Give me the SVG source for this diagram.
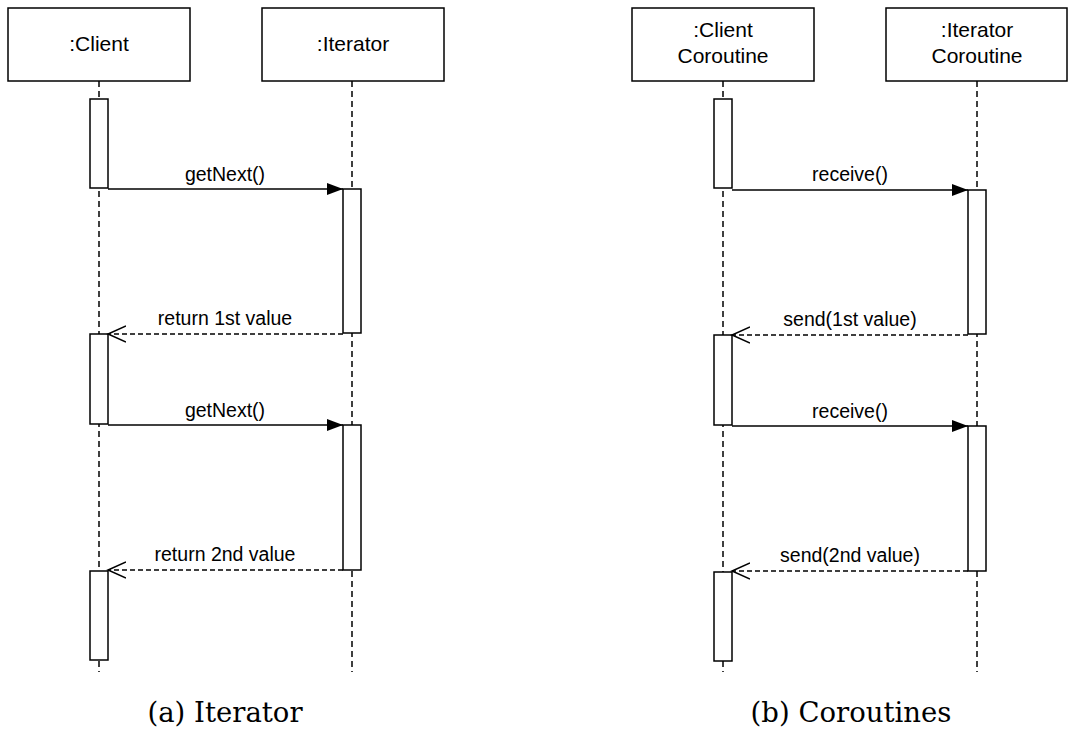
<svg xmlns="http://www.w3.org/2000/svg" width="1068" height="733" viewBox="0 0 1068 733">
<defs>
<marker id="filled" markerWidth="16" markerHeight="12" refX="16" refY="6" orient="auto" markerUnits="userSpaceOnUse"><path d="M0,0 L16,6 L0,12 Z" fill="#000"/></marker>
<marker id="open" markerWidth="20" markerHeight="18" refX="18" refY="9" orient="auto" markerUnits="userSpaceOnUse"><path d="M0,1 L18,9 L0,17" fill="none" stroke="#000" stroke-width="1.5"/></marker>
</defs>
<style>
.box{fill:#fff;stroke:#000;stroke-width:1.5}
.act{fill:#fff;stroke:#000;stroke-width:1.5}
.life{stroke:#000;stroke-width:1.5;stroke-dasharray:6 4;fill:none}
.call{stroke:#000;stroke-width:1.5;fill:none;marker-end:url(#filled)}
.ret{stroke:#000;stroke-width:1.4;stroke-dasharray:5 3;fill:none;marker-end:url(#open)}
.t{font-family:"Liberation Sans",Arial,sans-serif;font-size:21px;text-anchor:middle;fill:#000}
.l{font-family:"Liberation Sans",Arial,sans-serif;font-size:19.5px;text-anchor:middle;fill:#000}
.cap{font-family:"DejaVu Serif","Liberation Serif",serif;font-size:27.5px;text-anchor:middle;fill:#000}
</style>
<rect width="1068" height="733" fill="#fff"/>
<g id="lifelines">
<line class="life" x1="99" y1="81" x2="99" y2="672"/>
<line class="life" x1="352" y1="81" x2="352" y2="672"/>
<line class="life" x1="723" y1="81" x2="723" y2="672"/>
<line class="life" x1="977" y1="81" x2="977" y2="672"/>
</g>
<g id="client"><rect class="box" x="8" y="8" width="182" height="73"/><text class="t" x="99" y="51">:Client</text></g>
<g id="iterator"><rect class="box" x="262" y="8" width="182" height="73"/><text class="t" x="353" y="51">:Iterator</text></g>
<g id="clientco"><rect class="box" x="632" y="8" width="182" height="73"/><text class="t" x="723" y="37">:Client</text><text class="t" x="723" y="63">Coroutine</text></g>
<g id="iterco"><rect class="box" x="886" y="8" width="181" height="73"/><text class="t" x="977" y="37">:Iterator</text><text class="t" x="977" y="63">Coroutine</text></g>
<g id="activations">
<rect class="act" x="90" y="99" width="18" height="89"/>
<rect class="act" x="343" y="189" width="18" height="144"/>
<rect class="act" x="90" y="334" width="18" height="90"/>
<rect class="act" x="343" y="425" width="18" height="145"/>
<rect class="act" x="90" y="571" width="18" height="89"/>
<rect class="act" x="714" y="99" width="18" height="89"/>
<rect class="act" x="968" y="190" width="18" height="144"/>
<rect class="act" x="714" y="335" width="18" height="90"/>
<rect class="act" x="968" y="426" width="18" height="145"/>
<rect class="act" x="714" y="572" width="18" height="89"/>
</g>
<g id="connectors">
<line class="call" x1="108" y1="189" x2="343" y2="189"/>
<line class="ret" x1="343" y1="334" x2="108" y2="334"/>
<line class="call" x1="108" y1="425" x2="343" y2="425"/>
<line class="ret" x1="343" y1="570" x2="108" y2="570"/>
<line class="call" x1="732" y1="190" x2="968" y2="190"/>
<line class="ret" x1="968" y1="335" x2="732" y2="335"/>
<line class="call" x1="732" y1="426" x2="968" y2="426"/>
<line class="ret" x1="968" y1="571" x2="732" y2="571"/>
</g>
<g id="labels">
<text class="l" x="225" y="181">getNext()</text>
<text class="l" x="225" y="325">return 1st value</text>
<text class="l" x="225" y="417">getNext()</text>
<text class="l" x="225" y="561">return 2nd value</text>
<text class="l" x="850" y="181">receive()</text>
<text class="l" x="850" y="326">send(1st value)</text>
<text class="l" x="850" y="418">receive()</text>
<text class="l" x="850" y="562">send(2nd value)</text>
</g>
<text class="cap" x="225" y="722">(a) Iterator</text>
<text class="cap" x="851" y="722">(b) Coroutines</text>
</svg>
